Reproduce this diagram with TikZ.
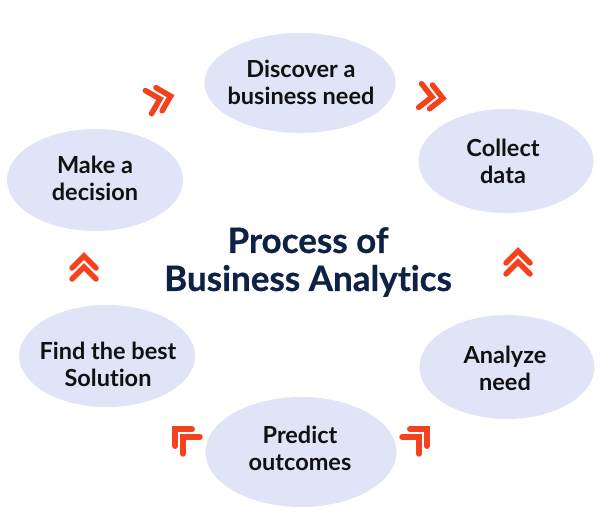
\documentclass[tikz,border=0pt]{standalone}
\usepackage{fontspec}
\setmainfont{Lato}[Ligatures=NoCommon]
\newfontfamily\titlefont{Lato}[Ligatures=NoCommon, BoldFeatures={FakeBold=0.6}]
\usetikzlibrary{shapes.geometric}
\definecolor{ellfill}{HTML}{E1E3F7}
\definecolor{chevcol}{HTML}{F4421E}
\definecolor{navy}{HTML}{0D2245}
\definecolor{txtcol}{HTML}{111111}
\tikzset{
  stage/.style={ellipse, fill=ellfill, inner sep=0pt},
  lbl/.style={align=center, text=txtcol, font=\fontsize{23.5}{27}\selectfont\bfseries},
  ttl/.style={align=center, text=navy, font=\titlefont\fontsize{35}{38}\selectfont\bfseries},
  chevron/.pic={
    \draw[chevcol, line width=5.5pt, line cap=round, line join=miter] (-12,-1) -- (0,11) -- (12,-1);
    \draw[chevcol, line width=5.5pt, line cap=round, line join=miter] (-12,-12) -- (0,0) -- (12,-12);
  }
}
\begin{document}
\begin{tikzpicture}[x=1pt,y=1pt]
\useasboundingbox (0,0) rectangle (600,-527);
% stages
\node[stage, minimum width=191pt, minimum height=100pt] (disc) at (300,-83) {};
\node[stage, minimum width=175pt, minimum height=104pt] (coll) at (506,-161) {};
\node[stage, minimum width=175pt, minimum height=104pt] (anal) at (507,-367) {};
\node[stage, minimum width=191pt, minimum height=110pt] (pred) at (301,-452) {};
\node[stage, minimum width=176pt, minimum height=102pt] (find) at (107,-356) {};
\node[stage, minimum width=176pt, minimum height=102pt] (make) at (95,-180) {};
% labels
\node[lbl] (discT) at (301,-82) {Discover a\\business need};
\node[lbl] (collT) at (503,-161) {Collect\\data};
\node[lbl] (analT) at (505,-368) {Analyze\\need};
\node[lbl] (predT) at (300,-448) {Predict\\outcomes};
\node[lbl] (findT) at (108,-364) {Find the best\\Solution};
\node[lbl] (makeT) at (95,-178) {Make a\\decision};
% title
\node[ttl] (title) at (308,-262) {Process of\\Business Analyt\kern0pt ics};
% chevrons
\pic[rotate=-75] (c1) at (160,-99) {chevron};
\pic[rotate=-97] (c2) at (432,-97) {chevron};
\pic (c3) at (518,-262) {chevron};
\pic[rotate=-45] (c4) at (419,-437) {chevron};
\pic[rotate=45] (c5) at (183,-437) {chevron};
\pic (c6) at (84,-267) {chevron};
\end{tikzpicture}
\end{document}
